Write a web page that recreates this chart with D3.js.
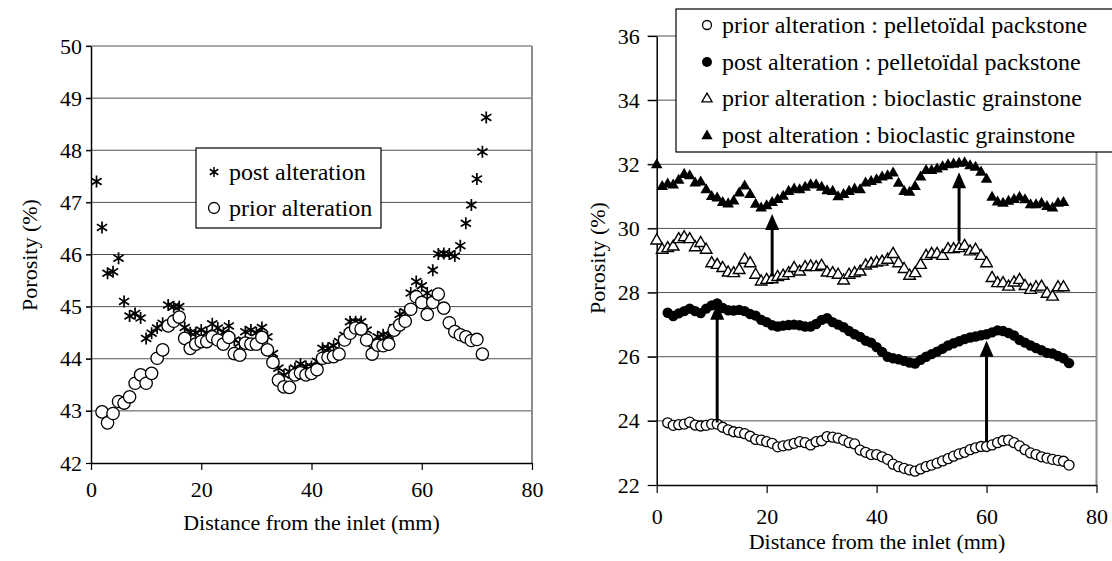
<!DOCTYPE html>
<html>
<head>
<meta charset="utf-8">
<script src="https://cdn.jsdelivr.net/npm/d3@7"></script>
<style>
  body { margin: 0; background: #fff; }
  svg, svg text { font-family: "Liberation Serif", "DejaVu Serif", Times, serif !important; fill: #000; }
</style>
</head>
<body>
<div id="chart"></div>
<script>
// ---- left chart data: porosity (%) vs distance (mm)
const leftPostX = [1,2,3,4,5,6,7,8,9,10,11,12,13,14,15,16,17,18,19,20,21,22,23,24,25,26,27,28,29,30,31,32,33,34,35,36,
  37,38,39,40,41,42,43,44,45,46,47,48,49,50,51,52,53,54,55,56,57,58,59,60,61,62,63,64,65,66,67,68,69,70,71,71.7];
const leftPostY = [47.4,46.52,45.64,45.67,45.93,45.1,44.82,44.87,44.78,44.39,44.49,44.59,44.68,45.03,45.0,45.0,44.6,44.5,
  44.5,44.55,44.5,44.67,44.59,44.5,44.63,44.36,44.3,44.52,44.55,44.5,44.6,44.42,44.1,43.82,43.69,43.75,43.82,43.9,43.85,
  43.85,43.95,44.2,44.2,44.25,44.33,44.45,44.71,44.71,44.71,44.55,44.2,44.42,44.46,44.45,44.6,44.85,44.9,45.26,45.48,
  45.4,45.26,45.7,46.01,46.02,46.01,45.97,46.17,46.6,46.95,47.45,47.97,48.63];
const leftPriorX = [2,3,4,5,6,7,8,9,10,11,12,13,14,15,16,17,18,19,20,21,22,23,24,25,26,27,28,29,30,31,32,33,34,35,36,
  37,38,39,40,41,42,43,44,45,46,47,48,49,50,51,52,53,54,55,56,57,58,59,60,61,62,63,64,65,66,67,68,69,70,71];
const leftPriorY = [42.98,42.77,42.95,43.18,43.15,43.27,43.53,43.69,43.53,43.72,44.01,44.17,44.63,44.72,44.8,44.39,44.2,
  44.28,44.33,44.33,44.42,44.36,44.28,44.41,44.1,44.07,44.3,44.28,44.28,44.41,44.17,43.93,43.59,43.46,43.45,43.69,43.73,
  43.69,43.72,43.79,44.01,44.03,44.04,44.09,44.36,44.49,44.59,44.57,44.36,44.09,44.26,44.25,44.28,44.55,44.65,44.72,
  44.95,45.19,45.08,44.85,45.08,45.24,44.97,44.69,44.52,44.46,44.42,44.35,44.37,44.09];
const leftTicksY = [42,43,44,45,46,47,48,49,50];
const leftTicksX = [0,20,40,60,80];
const leftLegend = ["post alteration", "prior alteration"];

// ---- right chart data
const packX = [2,3,4,5,6,7,8,9,10,11,12,13,14,15,16,17,18,19,20,21,22,23,24,25,26,27,28,29,30,31,32,33,34,35,36,37,38,
  39,40,41,42,43,44,45,46,47,48,49,50,51,52,53,54,55,56,57,58,59,60,61,62,63,64,65,66,67,68,69,70,71,72,73,74,75];
const packPrior = [23.94,23.86,23.88,23.9,23.96,23.87,23.84,23.86,23.9,23.9,23.8,23.72,23.66,23.64,23.6,23.52,23.42,23.4,
  23.35,23.3,23.19,23.22,23.25,23.3,23.35,23.32,23.25,23.35,23.38,23.51,23.49,23.46,23.4,23.32,23.28,23.09,23.02,22.95,
  22.95,22.88,22.8,22.65,22.57,22.52,22.47,22.43,22.5,22.57,22.62,22.68,22.75,22.82,22.9,22.97,23.02,23.1,23.16,23.2,
  23.2,23.25,23.32,23.38,23.4,23.32,23.22,23.1,23.0,22.95,22.88,22.84,22.8,22.77,22.74,22.62];
const packPost = [27.37,27.27,27.35,27.42,27.5,27.42,27.36,27.5,27.6,27.66,27.52,27.45,27.44,27.46,27.42,27.33,27.28,
  27.15,27.08,26.98,26.94,26.97,26.99,27.0,26.98,26.94,26.94,27.02,27.15,27.2,27.08,27.0,26.92,26.8,26.7,26.62,26.5,
  26.44,26.3,26.15,26.0,25.95,25.92,25.87,25.82,25.79,25.9,26.0,26.08,26.16,26.25,26.35,26.42,26.48,26.55,26.6,26.63,
  26.67,26.7,26.76,26.82,26.8,26.74,26.66,26.52,26.44,26.35,26.27,26.2,26.12,26.1,26.02,25.95,25.8];
const grainX = [0,1,2,3,4,5,6,7,8,9,10,11,12,13,14,15,16,17,18,19,20,21,22,23,24,25,26,27,28,29,30,31,32,33,34,35,36,
  37,38,39,40,41,42,43,44,45,46,47,48,49,50,51,52,53,54,55,56,57,58,59,60,61,62,63,64,65,66,67,68,69,70,71,72,73,74];
const grainPrior = [29.62,29.33,29.38,29.43,29.66,29.72,29.66,29.41,29.54,29.33,28.91,28.86,28.76,28.62,28.6,28.7,29.02,
  28.91,28.55,28.34,28.39,28.41,28.48,28.52,28.6,28.76,28.65,28.79,28.81,28.79,28.83,28.62,28.6,28.55,28.37,28.55,28.6,
  28.65,28.84,28.9,28.93,28.96,29.02,29.2,28.91,28.73,28.52,28.6,28.86,29.14,29.2,29.2,29.14,29.35,29.35,29.38,29.45,
  29.28,29.33,29.14,28.91,28.45,28.29,28.29,28.18,28.31,28.39,28.2,28.08,28.16,28.18,27.96,27.87,28.16,28.16];
const grainPost = [31.98,31.3,31.38,31.35,31.5,31.68,31.64,31.41,31.44,31.2,30.99,30.94,30.8,30.76,30.85,31.1,31.32,
  31.05,30.75,30.63,30.7,30.8,30.9,31.0,31.15,31.22,31.2,31.28,31.36,31.36,31.28,31.17,31.15,30.98,31.05,31.15,31.22,
  31.2,31.41,31.46,31.51,31.6,31.64,31.72,31.4,31.15,31.12,31.3,31.6,31.8,31.8,31.85,31.92,31.98,32.0,32.03,32.04,31.95,
  31.9,31.75,31.53,30.97,30.82,30.78,30.84,30.9,30.97,30.89,30.73,30.73,30.78,30.68,30.63,30.78,30.8];
const rightTicksY = [22,24,26,28,30,32,34,36];
const rightTicksX = [0,20,40,60,80];
const rightLegend = [
  "prior alteration : pelletoïdal packstone",
  "post alteration : pelletoïdal packstone",
  "prior alteration : bioclastic grainstone",
  "post alteration : bioclastic grainstone"
];
// arrows: [x, from, to]
const arrowX = [11, 60, 21, 55];
const arrowFrom = [23.95, 23.35, 28.5, 29.6];
const arrowTo = [27.65, 26.5, 30.45, 31.75];

const W = 1112, H = 561;
const FONT = "Liberation Serif";
const svg = d3.select("#chart").append("svg")
  .attr("width", W).attr("height", H)
  .attr("font-family", FONT);
svg.append("rect").attr("width", W).attr("height", H).attr("fill", "#fff");

const grid = "#505050";

function asterisk(s) {
  const a = s * 0.85, b = s * 0.55;
  return `M0,${-s}L0,${s}M${-a},${-b}L${a},${b}M${-a},${b}L${a},${-b}`;
}

// ================= LEFT CHART =================
const xL = d3.scaleLinear().domain([0, 80]).range([91, 532]);
const yL = d3.scaleLinear().domain([42, 50]).range([463, 46]);
const gL = svg.append("g");

gL.selectAll(".grid").data(leftTicksY.slice(1)).enter().append("line")
  .attr("x1", xL(0) - 5).attr("x2", xL(80))
  .attr("y1", d => yL(d)).attr("y2", d => yL(d))
  .attr("stroke", grid).attr("stroke-width", 1);
gL.append("line").attr("x1", xL(80)).attr("x2", xL(80)).attr("y1", yL(50)).attr("y2", yL(42))
  .attr("stroke", "#8c8c8c").attr("stroke-width", 2);

const axLY = gL.append("g").attr("transform", `translate(${xL(0)},0)`)
  .call(d3.axisLeft(yL).tickValues(leftTicksY).tickSize(5).tickSizeOuter(0).tickPadding(4));
const axLX = gL.append("g").attr("transform", `translate(0,${yL(42)})`)
  .call(d3.axisBottom(xL).tickValues(leftTicksX).tickSize(7).tickSizeOuter(0).tickPadding(11));
[axLY, axLX].forEach(a => {
  a.attr("font-family", FONT);
  a.select(".domain").attr("stroke", "#000").attr("stroke-width", 1.5);
  a.selectAll(".tick line").attr("stroke", "#000").attr("stroke-width", 1.2);
  a.selectAll("text").attr("font-size", 22);
});

gL.append("text").attr("x", xL(40)).attr("y", 530).attr("text-anchor", "middle")
  .attr("font-size", 22).text("Distance from the inlet (mm)");
gL.append("text").attr("transform", "translate(37,255) rotate(-90)").attr("text-anchor", "middle")
  .attr("font-size", 22).text("Porosity (%)");

gL.selectAll(".post").data(leftPostX).enter().append("path")
  .attr("transform", (d, i) => `translate(${xL(d)},${yL(leftPostY[i])})`)
  .attr("d", asterisk(6)).attr("stroke", "#000").attr("stroke-width", 1.7).attr("fill", "none");
gL.selectAll(".prior").data(leftPriorX).enter().append("circle")
  .attr("cx", d => xL(d)).attr("cy", (d, i) => yL(leftPriorY[i])).attr("r", 6.2)
  .attr("fill", "#fff").attr("stroke", "#000").attr("stroke-width", 1.3);

// legend
const legL = gL.append("g");
legL.append("rect").attr("x", 196).attr("y", 148).attr("width", 185).attr("height", 80)
  .attr("fill", "#fff").attr("stroke", "#000").attr("stroke-width", 1.2);
legL.selectAll("text").data(leftLegend).enter().append("text")
  .attr("x", 229).attr("y", (d, i) => 180 + i * 36).attr("font-size", 24).text(d => d);
legL.append("path").attr("transform", "translate(214,172)").attr("d", asterisk(5))
  .attr("stroke", "#000").attr("stroke-width", 1.5);
legL.append("circle").attr("cx", 214).attr("cy", 208).attr("r", 5.5)
  .attr("fill", "#fff").attr("stroke", "#000").attr("stroke-width", 1.3);

// ================= RIGHT CHART =================
const xR = d3.scaleLinear().domain([0, 80]).range([656.7, 1096.5]);
const yR = d3.scaleLinear().domain([22, 36]).range([485, 36]);
const gR = svg.append("g");

gR.selectAll(".grid").data(rightTicksY.slice(1)).enter().append("line")
  .attr("x1", xR(0) - 9).attr("x2", xR(80))
  .attr("y1", d => yR(d)).attr("y2", d => yR(d))
  .attr("stroke", grid).attr("stroke-width", 1);
gR.append("line").attr("x1", xR(80)).attr("x2", xR(80)).attr("y1", yR(36)).attr("y2", yR(22))
  .attr("stroke", "#8c8c8c").attr("stroke-width", 2);

const axRY = gR.append("g").attr("transform", `translate(${xR(0)},0)`)
  .call(d3.axisLeft(yR).tickValues(rightTicksY).tickSize(9).tickSizeOuter(0).tickPadding(8));
const axRX = gR.append("g").attr("transform", `translate(0,${yR(22)})`)
  .call(d3.axisBottom(xR).tickValues(rightTicksX).tickSize(8).tickSizeOuter(0).tickPadding(15));
[axRY, axRX].forEach(a => {
  a.attr("font-family", FONT);
  a.select(".domain").attr("stroke", "#000").attr("stroke-width", 1.5);
  a.selectAll(".tick line").attr("stroke", "#000").attr("stroke-width", 1.2);
  a.selectAll("text").attr("font-size", 22);
});

gR.append("text").attr("x", 877).attr("y", 549).attr("text-anchor", "middle")
  .attr("font-size", 22).text("Distance from the inlet (mm)");
gR.append("text").attr("transform", "translate(605,258) rotate(-90)").attr("text-anchor", "middle")
  .attr("font-size", 22).text("Porosity (%)");

gR.selectAll(".pprior").data(packX).enter().append("circle")
  .attr("cx", d => xR(d)).attr("cy", (d, i) => yR(packPrior[i])).attr("r", 5)
  .attr("fill", "#fff").attr("stroke", "#000").attr("stroke-width", 1.3);
gR.selectAll(".ppost").data(packX).enter().append("circle")
  .attr("cx", d => xR(d)).attr("cy", (d, i) => yR(packPost[i])).attr("r", 5.2)
  .attr("fill", "#000");
const tri = d3.symbol().type(d3.symbolTriangle).size(58);
gR.selectAll(".gprior").data(grainX).enter().append("path")
  .attr("transform", (d, i) => `translate(${xR(d)},${yR(grainPrior[i])})`)
  .attr("d", tri).attr("fill", "#fff").attr("stroke", "#000").attr("stroke-width", 1.4);
gR.selectAll(".gpost").data(grainX).enter().append("path")
  .attr("transform", (d, i) => `translate(${xR(d)},${yR(grainPost[i])})`)
  .attr("d", tri).attr("fill", "#000");

// arrows
arrowX.forEach((ax, i) => {
  const x = xR(ax), y0 = yR(arrowFrom[i]), y1 = yR(arrowTo[i]);
  gR.append("line").attr("x1", x).attr("x2", x).attr("y1", y0).attr("y2", y1 + 14)
    .attr("stroke", "#000").attr("stroke-width", 3);
  gR.append("path").attr("d", `M${x},${y1}L${x - 7},${y1 + 16}L${x + 7},${y1 + 16}Z`).attr("fill", "#000");
});

// legend
const legR = gR.append("g");
legR.append("rect").attr("x", 676).attr("y", 9).attr("width", 450).attr("height", 143)
  .attr("fill", "#fff").attr("stroke", "#000").attr("stroke-width", 1.2);
legR.selectAll("text").data(rightLegend).enter().append("text")
  .attr("x", 722).attr("y", (d, i) => 33 + i * 36.7).attr("font-size", 24).text(d => d);
legR.append("circle").attr("cx", 707).attr("cy", 25).attr("r", 4.5)
  .attr("fill", "#fff").attr("stroke", "#000").attr("stroke-width", 1.3);
legR.append("circle").attr("cx", 707).attr("cy", 62).attr("r", 5).attr("fill", "#000");
legR.append("path").attr("transform", "translate(707,99)").attr("d", d3.symbol().type(d3.symbolTriangle).size(45))
  .attr("fill", "#fff").attr("stroke", "#000").attr("stroke-width", 1.3);
legR.append("path").attr("transform", "translate(707,136)").attr("d", d3.symbol().type(d3.symbolTriangle).size(55))
  .attr("fill", "#000");
</script>
</body>
</html>
